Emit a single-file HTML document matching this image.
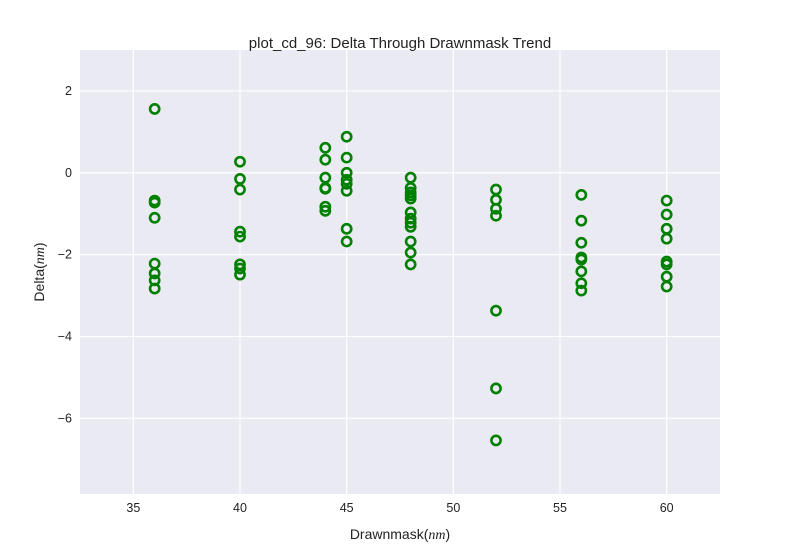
<!DOCTYPE html>
<html><head><meta charset="utf-8"><style>
body{margin:0;background:#fff;}
svg text{font-family:"Liberation Sans",Arial,sans-serif;fill:#222;}
</style></head><body>
<svg id="chart" width="800" height="550">
<rect x="80" y="50" width="640" height="444" fill="#eaeaf2"/>
<g id="grid"></g>
<g id="pts"></g>
<g id="ticks"></g>
<text x="400" y="48" font-size="15" text-anchor="middle">plot_cd_96: Delta Through Drawnmask Trend</text>
<text x="400" y="539" font-size="14" text-anchor="middle">Drawnmask(<tspan font-style="italic" font-family="Liberation Serif,serif">nm</tspan>)</text>
<text x="44" y="272" font-size="14" text-anchor="middle" transform="rotate(-90 44 272)">Delta(<tspan font-style="italic" font-family="Liberation Serif,serif">nm</tspan>)</text>
</svg>
<script>
const xTicks=[35,40,45,50,55,60];
const yTicks=[2,0,-2,-4,-6];
const yTickLabels=["2","0","\u22122","\u22124","\u22126"];
const groupX=[36,40,44,45,48,52,56,60];
const groupY=[
[1.56,-0.68,-0.73,-1.1,-2.22,-2.46,-2.63,-2.83],
[0.27,-0.15,-0.41,-1.44,-1.56,-2.24,-2.34,-2.49],
[0.61,0.32,-0.12,-0.37,-0.39,-0.83,-0.93],
[0.88,0.37,0,-0.17,-0.27,-0.44,-1.37,-1.68],
[-0.12,-0.37,-0.48,-0.55,-0.63,-0.97,-1.12,-1.22,-1.32,-1.68,-1.95,-2.24],
[-0.41,-0.66,-0.88,-1.05,-3.37,-5.27,-6.54],
[-0.54,-1.17,-1.71,-2.07,-2.12,-2.41,-2.7,-2.88],
[-0.68,-1.02,-1.37,-1.61,-2.17,-2.24,-2.54,-2.78]
];
const X0=80,X1=720,Y0=50,Y1=494,xmin=32.5,xmax=62.5,ymin=-7.85,ymax=3.0;
const sx=v=>X0+(v-xmin)/(xmax-xmin)*(X1-X0);
const sy=v=>Y1-(v-ymin)/(ymax-ymin)*(Y1-Y0);
const NS="http://www.w3.org/2000/svg";
const grid=document.getElementById('grid'),ticks=document.getElementById('ticks'),pts=document.getElementById('pts');
xTicks.forEach(t=>{
 const l=document.createElementNS(NS,'line');
 l.setAttribute('x1',sx(t));l.setAttribute('x2',sx(t));l.setAttribute('y1',Y0);l.setAttribute('y2',Y1);
 l.setAttribute('stroke','#fff');l.setAttribute('stroke-width','1.2');
 
 
 grid.appendChild(l);
 const tx=document.createElementNS(NS,'text');
 tx.setAttribute('x',sx(t));tx.setAttribute('y',Y1+18);tx.setAttribute('font-size','12.5');tx.setAttribute('text-anchor','middle');
 tx.textContent=t;
 
 
 ticks.appendChild(tx);
});
yTicks.forEach((t,i)=>{
 const l=document.createElementNS(NS,'line');
 l.setAttribute('x1',X0);l.setAttribute('x2',X1);l.setAttribute('y1',sy(t));l.setAttribute('y2',sy(t));
 l.setAttribute('stroke','#fff');l.setAttribute('stroke-width','1.2');
 
 
 grid.appendChild(l);
 const tx=document.createElementNS(NS,'text');
 tx.setAttribute('x',X0-8);tx.setAttribute('y',sy(t)+4);tx.setAttribute('font-size','12.5');tx.setAttribute('text-anchor','end');
 tx.textContent=yTickLabels[i];
 
 
 ticks.appendChild(tx);
});
groupX.forEach((x,gi)=>{
 groupY[gi].forEach(y=>{
  const c=document.createElementNS(NS,'circle');
  c.setAttribute('cx',sx(x));c.setAttribute('cy',sy(y));c.setAttribute('r','4.6');
  c.setAttribute('fill','none');c.setAttribute('stroke','#008000');c.setAttribute('stroke-width','2.6');
  
  
  pts.appendChild(c);
 });
});
</script>
</body></html>
